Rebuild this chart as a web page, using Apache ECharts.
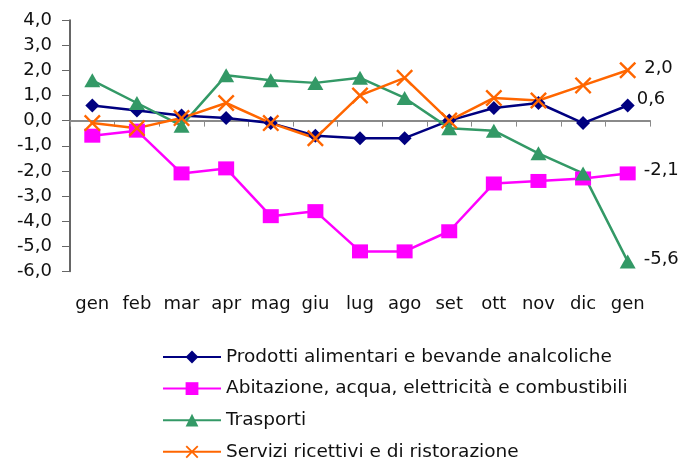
<!DOCTYPE html>
<html>
<head>
<meta charset="utf-8">
<script src="https://cdn.jsdelivr.net/npm/echarts@6/dist/echarts.min.js"></script>
<style>
html,body{margin:0;padding:0;background:#fff;}
#chart{width:694px;height:461px;}
</style>
</head>
<body>
<div id="chart"></div>
<script>
const categories = ['gen','feb','mar','apr','mag','giu','lug','ago','set','ott','nov','dic','gen'];
const prodottiAlimentari = [0.6, 0.4, 0.2, 0.1, -0.1, -0.6, -0.7, -0.7, 0.0, 0.5, 0.7, -0.1, 0.6];
const abitazione = [-0.6, -0.4, -2.1, -1.9, -3.8, -3.6, -5.2, -5.2, -4.4, -2.5, -2.4, -2.3, -2.1];
const trasporti = [1.6, 0.7, -0.2, 1.8, 1.6, 1.5, 1.7, 0.9, -0.3, -0.4, -1.3, -2.1, -5.6];
const servizi = [-0.1, -0.3, 0.1, 0.7, -0.1, -0.7, 1.0, 1.7, 0.0, 0.9, 0.8, 1.4, 2.0];
const seriesNames = [
  'Prodotti alimentari e bevande analcoliche',
  'Abitazione, acqua, elettricità e combustibili',
  'Trasporti',
  'Servizi ricettivi e di ristorazione'
];

const FONT = 'DejaVu Sans';
const fmt = v => Number(v).toFixed(1).replace('.', ',');

function withEndLabel(values, labelOpts) {
  const last = values.length - 1;
  return values.map((v, i) => i === last ? {
    value: v,
    label: Object.assign({
      show: true, position: 'right', distance: 8,
      formatter: p => fmt(p.value),
      fontFamily: FONT, fontSize: 18, color: '#111'
    }, labelOpts || {})
  } : v);
}

const xPath = 'path://M0,2 L2,0 L10,8 L18,0 L20,2 L12,10 L20,18 L18,20 L10,12 L2,20 L0,18 L8,10 Z';

const chart = echarts.init(document.getElementById('chart'));
chart.setOption({
  animation: false,
  backgroundColor: '#ffffff',
  grid: { left: 70, right: 44, top: 20, bottom: 189.5, containLabel: false },
  legend: {
    orient: 'vertical',
    left: 162, top: 347, height: 140, padding: 0,
    itemWidth: 58, itemHeight: 16, itemGap: 11.6,
    textStyle: { fontFamily: FONT, fontSize: 18.5, color: '#111', lineHeight: 20 },
    data: seriesNames
  },
  xAxis: [{
    type: 'category', data: categories, position: 'bottom', boundaryGap: true,
    axisLine: { show: false, onZero: false },
    axisTick: { show: false },
    axisLabel: { margin: 24, fontFamily: FONT, fontSize: 18, color: '#111', interval: 0 }
  }, {
    type: 'category', data: categories, position: 'bottom', boundaryGap: true,
    axisLine: { show: true, onZero: true, lineStyle: { color: '#8a8a8a', width: 2 } },
    axisTick: { show: true, length: 6, interval: 0, lineStyle: { color: '#8a8a8a', width: 1 } },
    axisLabel: { show: false }
  }],
  yAxis: {
    type: 'value', min: -6, max: 4, interval: 1,
    splitLine: { show: false },
    axisLine: { show: true, lineStyle: { color: '#333', width: 1.5 } },
    axisTick: { show: true, length: 8, lineStyle: { color: '#666' } },
    axisLabel: { margin: 18, fontFamily: FONT, fontSize: 18, color: '#111', formatter: fmt }
  },
  series: [{
    name: seriesNames[0], type: 'line', xAxisIndex: 0,
    data: withEndLabel(prodottiAlimentari, { offset: [-6, -6] }),
    symbol: 'diamond', symbolSize: [14, 14],
    lineStyle: { color: '#000080', width: 2.5 },
    itemStyle: { color: '#000080' }
  }, {
    name: seriesNames[1], type: 'line', xAxisIndex: 0,
    data: withEndLabel(abitazione, { offset: [0, -3] }),
    symbol: 'rect', symbolSize: [16, 14],
    lineStyle: { color: '#FF00FF', width: 2.5 },
    itemStyle: { color: '#FF00FF' }
  }, {
    name: seriesNames[2], type: 'line', xAxisIndex: 0,
    data: withEndLabel(trasporti, { offset: [0, -2] }),
    symbol: 'triangle', symbolSize: [16, 14],
    lineStyle: { color: '#339966', width: 2.5 },
    itemStyle: { color: '#339966' }
  }, {
    name: seriesNames[3], type: 'line', xAxisIndex: 0,
    data: withEndLabel(servizi, { offset: [0, -2] }),
    symbol: xPath, symbolSize: [17, 17],
    lineStyle: { color: '#FF6600', width: 2.5 },
    itemStyle: { color: '#FF6600' }
  }]
});
</script>
</body>
</html>
